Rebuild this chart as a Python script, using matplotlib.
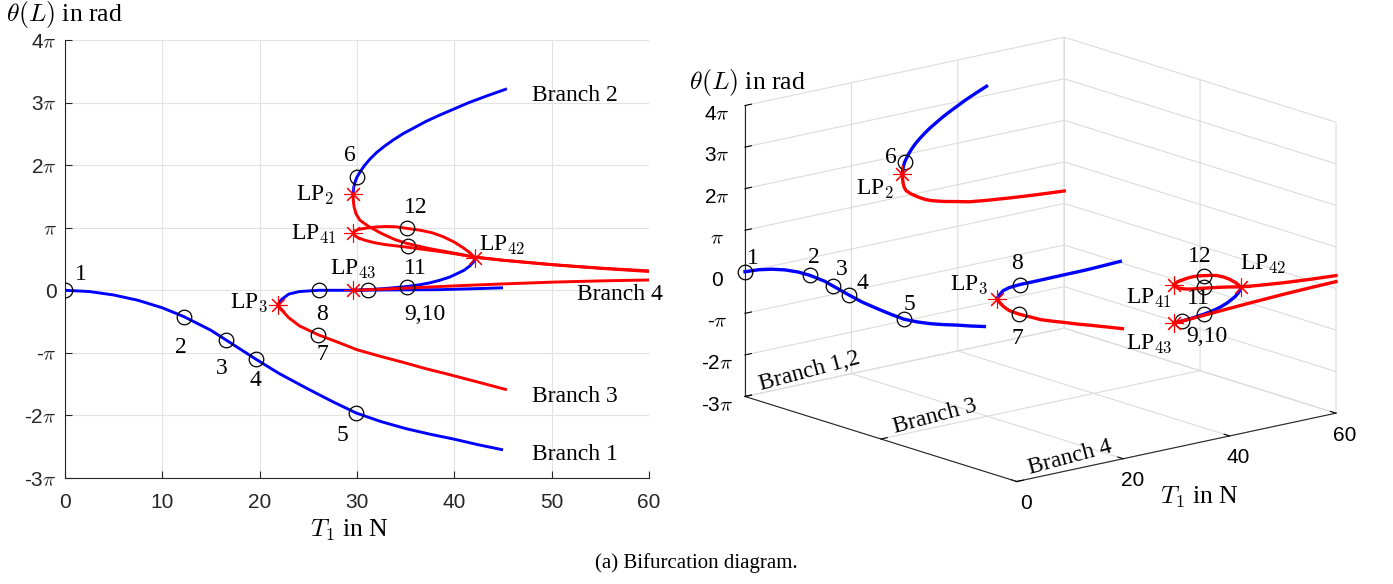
import numpy as np
import matplotlib
matplotlib.use("Agg")
import matplotlib.pyplot as plt
from mpl_toolkits.mplot3d import proj3d

plt.rcParams["font.family"] = ["Liberation Serif", "DejaVu Serif"]
plt.rcParams["mathtext.fontset"] = "cm"
plt.rcParams["grid.color"] = "#e2e2e2"
plt.rcParams["grid.linewidth"] = 0.8

# ---------------- data: T1 in N, theta(L) in multiples of pi ----------------
b1_T  = [0, 2.5, 5, 7.5, 10, 12.2, 15, 16.5, 19.6, 22, 25, 27.5, 29.9, 31, 32.5, 35, 37.5, 40, 42.5, 45]
b1_th = [0, -0.02, -0.075, -0.16, -0.28, -0.42, -0.64, -0.79, -1.10, -1.33, -1.58, -1.78, -1.96, -2.02, -2.10, -2.21, -2.30, -2.38, -2.47, -2.55]

b2_T  = [29.6, 29.67, 29.8, 30.0, 30.35, 30.8, 31.35, 32.0, 32.8, 33.7, 34.7, 35.9, 37.1, 38.5, 40.0, 41.5, 43.4, 45.4]
b2_th = [1.54, 1.65, 1.73, 1.81, 1.90, 2.00, 2.10, 2.20, 2.30, 2.40, 2.50, 2.60, 2.70, 2.80, 2.90, 3.00, 3.11, 3.22]

redA_T  = [29.6, 29.62, 29.7, 29.9, 30.3, 31.2, 32.5, 33.9, 35.1, 37.3, 40.1, 42.1, 45, 50, 55, 60]
redA_th = [1.54, 1.44, 1.33, 1.22, 1.12, 1.02, 0.91, 0.81, 0.75, 0.67, 0.59, 0.53, 0.48, 0.41, 0.35, 0.30]

redB_T  = [29.6, 29.75, 30.1, 30.8, 31.8, 32.9, 35.1, 37.0, 38.5, 40.2, 42.1, 45, 50, 55, 60]
redB_th = [0.92, 0.88, 0.84, 0.80, 0.76, 0.73, 0.69, 0.65, 0.62, 0.58, 0.53, 0.48, 0.41, 0.355, 0.31]

redC_T  = [29.6, 29.8, 30.2, 30.8, 31.8, 32.9, 34.0, 35.1, 36.5, 37.7, 38.8, 40.0, 40.9, 41.6, 42.1]
redC_th = [0.92, 0.95, 0.975, 0.99, 1.01, 1.02, 1.015, 0.99, 0.96, 0.92, 0.86, 0.77, 0.68, 0.60, 0.52]

blueD_T  = [29.6, 31.1, 33.0, 35.1, 36.5, 37.5, 38.5, 39.5, 40.2, 41.0, 41.6, 42.0, 42.1]
blueD_th = [0.0, 0.01, 0.03, 0.06, 0.09, 0.12, 0.16, 0.21, 0.26, 0.32, 0.39, 0.46, 0.52]

redE_T  = [29.6, 33.0, 35.1, 38.5, 41.5, 44.7, 50, 55, 60]
redE_th = [0.0, 0.02, 0.035, 0.06, 0.08, 0.10, 0.13, 0.15, 0.165]

b3_T  = [21.9, 22.05, 22.4, 23.0, 24.1, 26.0, 28.2, 30.0, 32.5, 34.7, 37.0, 39.3, 42.5, 45.4]
b3_th = [-0.23, -0.28, -0.34, -0.44, -0.57, -0.71, -0.84, -0.95, -1.06, -1.15, -1.25, -1.34, -1.47, -1.59]

blueF_T  = [21.9, 22.0, 22.3, 23.0, 24.1, 26.1, 29.6, 33, 38.5, 42, 45]
blueF_th = [-0.23, -0.19, -0.14, -0.06, -0.02, 0.0, 0.0, 0.005, 0.01, 0.025, 0.04]

# curves: (T, theta, colour, plane in 3-D view: 2 = Branch 1,2 ; 1 = Branch 3 ; 0 = Branch 4)
curves = [
    (b1_T, b1_th, "blue", 2),
    (b2_T, b2_th, "blue", 2),
    (redA_T, redA_th, "red", 2),
    (b3_T, b3_th, "red", 1),
    (blueF_T, blueF_th, "blue", 1),
    (redB_T, redB_th, "red", 0),
    (redC_T, redC_th, "red", 0),
    (blueD_T, blueD_th, "blue", 0),
    (redE_T, redE_th, "red", 0),
]

circ_T     = [0, 12.2, 16.5, 19.6, 29.9, 30.0, 26.0, 26.1, 31.1, 35.1, 35.2, 35.1]
circ_th    = [0, -0.42, -0.79, -1.10, -1.96, 1.81, -0.71, 0.0, 0.0, 0.06, 0.71, 0.99]
circ_plane = [2, 2, 2, 2, 2, 2, 1, 1, 0, 0, 0, 0]

lp_T     = [29.6, 29.6, 42.1, 29.6, 21.9]
lp_th    = [1.54, 0.92, 0.52, 0.0, -0.23]
lp_plane = [2, 0, 0, 0, 1]

# text labels of the 2-D view: (text, T, theta, ha)
labels2d = [
    ("1", 1.6, 0.245, "center"), ("2", 11.9, -0.915, "center"), ("3", 16.1, -1.25, "center"),
    ("4", 19.6, -1.447, "center"), ("5", 28.5, -2.32, "center"), ("6", 29.25, 2.16, "center"),
    ("7", 26.4, -1.02, "center"), ("8", 26.4, -0.383, "center"), ("9,10", 37.0, -0.383, "center"),
    ("11", 36.0, 0.35, "center"), ("12", 36.0, 1.32, "center"),
    ("LP$_2$", 27.6, 1.52, "right"), ("LP$_{41}$", 27.9, 0.89, "right"),
    ("LP$_{42}$", 42.5, 0.72, "left"), ("LP$_{43}$", 29.6, 0.335, "center"),
    ("LP$_3$", 20.9, -0.197, "right"),
    ("Branch 1", 48.0, -2.63, "left"), ("Branch 2", 48.0, 3.12, "left"),
    ("Branch 3", 48.0, -1.69, "left"), ("Branch 4", 52.6, -0.064, "left"),
]

# text labels of the 3-D view: (text, T, plane, theta)
labels3d = [
    ("1", 1.5, 2, 0.29), ("2", 13.0, 2, -0.02), ("3", 18.1, 2, -0.45), ("4", 22.1, 2, -0.89),
    ("5", 31.0, 2, -1.63), ("6", 27.4, 2, 1.99), ("LP$_2$", 24.5, 2, 1.30),
    ("LP$_3$", 16.6, 1, 0.25), ("8", 25.6, 1, 0.52), ("7", 25.6, 1, -1.28),
    ("12", 34.3, 0, 1.47), ("LP$_{42}$", 46.4, 0, 0.95), ("LP$_{41}$", 24.9, 0, 0.71),
    ("11", 34.2, 0, 0.46), ("LP$_{43}$", 24.9, 0, -0.36), ("9,10", 35.7, 0, -0.49),
]
branch_names  = ["Branch 1,2", "Branch 3", "Branch 4"]
branch_lab_T  = [12.2, 14.1, 14.3]
branch_lab_y  = [2.0, 1.155, 0.17]
branch_lab_z  = [-2.73, -3.0, -3.0]

pi_ticks = list(range(-3, 5))
pi_labels = ["-3$\\pi$", "-2$\\pi$", "-$\\pi$", "0", "$\\pi$", "2$\\pi$", "3$\\pi$", "4$\\pi$"]

# ---------------- figure ----------------
W, H = 1393, 584
fig = plt.figure(figsize=(W / 100, H / 100), dpi=100)
dark = "#262626"
tickfont = dict(family=["Liberation Sans", "DejaVu Sans"], size=15)
LW = 2.1
FS = 17      # annotation font size
FSL = 18.5   # axis label font size
STAR = dict(marker=(8, 2, 0), ls="none", color="red", ms=13, mew=0.8)
CIRC = dict(marker="o", ls="none", mfc="none", mec="k", ms=10.5, mew=0.9)

# ----- 2-D bifurcation diagram -----
ax = fig.add_axes([65 / W, 1 - 478 / H, 584 / W, 438 / H])
for T, th, c, _ in curves:
    ax.plot(T, th, color=c, lw=LW, solid_capstyle="butt", zorder=3)
ax.plot(circ_T, circ_th, zorder=4, **CIRC)
ax.plot(lp_T, lp_th, zorder=5, **STAR)
for s, T, th, ha in labels2d:
    ax.text(T, th, s, ha=ha, va="center", fontsize=FS)

ax.set_xlim(0, 60)
ax.set_ylim(-3, 4)
ax.set_xticks(range(0, 61, 10))
ax.set_yticks(pi_ticks)
ax.set_xticklabels([str(v) for v in range(0, 61, 10)], **tickfont)
ax.set_yticklabels(pi_labels, **tickfont)
ax.tick_params(direction="in", length=5, width=0.8, color=dark, labelcolor=dark, pad=6)
ax.tick_params(axis="x", pad=11)
ax.grid(True, zorder=0)
ax.set_axisbelow(True)
for side in ("top", "right"):
    ax.spines[side].set_visible(False)
for side in ("left", "bottom"):
    ax.spines[side].set_color(dark)
    ax.spines[side].set_linewidth(0.8)

fig.text(6 / W, 1 - 14 / H, "$\\theta(L)$ in rad", ha="left", va="center", fontsize=FSL)
fig.text(349 / W, 1 - 530 / H, "$T_1$ in N", ha="center", va="center", fontsize=FSL)
fig.text(0.5, 1 - 563 / H, "(a) Bifurcation diagram.", ha="center", va="center", fontsize=15)

# ----- 3-D view -----
ax3 = fig.add_axes([0.5, 0.0, 0.5, 1.0], projection="3d", proj_type="ortho")
ax3.view_init(elev=15, azim=-129.6)
ax3.set_box_aspect((412.9, 425.0, 300.2))
ax3.set_xlim(0, 60)
ax3.set_ylim(0, 2)
ax3.set_zlim(-3, 4)
ax3.set_xticks([0, 20, 40, 60])
ax3.set_xticklabels(["0", "20", "40", "60"], **tickfont)
ax3.set_yticks([0, 1, 2])
ax3.set_yticklabels(["", "", ""])
ax3.set_zticks(pi_ticks)
ax3.set_zticklabels(pi_labels, **tickfont)
ax3.xaxis.set_tick_params(pad=0)
for a in (ax3.xaxis, ax3.yaxis, ax3.zaxis):
    a.set_pane_color((1, 1, 1, 0))
    a.line.set_color(dark)
    a.line.set_linewidth(0.8)
    a._axinfo["grid"]["color"] = "#dcdcdc"
    a._axinfo["grid"]["linewidth"] = 0.8
    a._axinfo["tick"]["inward_factor"] = 0.0
    a._axinfo["tick"]["outward_factor"] = 0.25
    a._axinfo["tick"]["color"] = dark
ax3.grid(True)
for t in (ax3.title, ax3._left_title, ax3._right_title):
    t.set_visible(False)

for T, th, c, pl in curves:
    ax3.plot(T, [pl] * len(T), th, color=c, lw=LW + 0.3)
ax3.plot(circ_T, circ_plane, circ_th, **CIRC)
ax3.plot(lp_T, lp_plane, lp_th, **STAR)

fig.text(689 / W, 1 - 82 / H, "$\\theta(L)$ in rad", ha="left", va="center", fontsize=FSL)
fig.text(1199 / W, 1 - 497 / H, "$T_1$ in N", ha="center", va="center", fontsize=FSL)

# fit the projected 3-D box onto its place in the layout
fig.canvas.draw()
M = ax3.get_proj()
pts = []
for cx in (0, 60):
    for cy in (0, 2):
        for cz in (-3, 4):
            px, py, _ = proj3d.proj_transform(cx, cy, cz, M)
            pts.append(ax3.transData.transform((px, py)))
pts = np.array(pts)
pos = ax3.get_position()
S = pos.width * W
c0x = (pos.x0 + pos.width / 2) * W
c0y = (pos.y0 + pos.height / 2) * H
nx = (pts[:, 0] - c0x) / S
ny = (pts[:, 1] - c0y) / S
tx0, tx1 = 745.0, 1336.0
ty0, ty1 = H - 480.0, H - 38.7
S2 = (tx1 - tx0) / (nx.max() - nx.min())
c2x = tx0 - S2 * nx.min()
c2y = (ty0 + ty1) / 2 - S2 * (ny.max() + ny.min()) / 2
ax3.set_position([(c2x - S2 / 2) / W, (c2y - S2 / 2) / H, S2 / W, S2 / H])
ax3.apply_aspect()

# annotations of the 3-D view, placed through the axes' own projection
M = ax3.get_proj()


def to_fig(x, y, z):
    px, py, _ = proj3d.proj_transform(x, y, z, M)
    return fig.transFigure.inverted().transform(ax3.transData.transform((px, py)))


def to_disp(x, y, z):
    px, py, _ = proj3d.proj_transform(x, y, z, M)
    return ax3.transData.transform((px, py))


for s, T, pl, th in labels3d:
    fx, fy = to_fig(T, pl, th)
    fig.text(fx, fy, s, ha="center", va="center", fontsize=FS, zorder=10)
for s, T, yb, zb in zip(branch_names, branch_lab_T, branch_lab_y, branch_lab_z):
    p0 = to_disp(T, yb, zb)
    p1 = to_disp(T + 10, yb, zb + 0.07)
    ang = np.degrees(np.arctan2(p1[1] - p0[1], p1[0] - p0[0]))
    fx, fy = to_fig(T, yb, zb)
    fig.text(fx, fy, s, ha="center", va="center", rotation=ang,
             rotation_mode="anchor", fontsize=FS, zorder=10)

fig.savefig("out.png", dpi=100)
